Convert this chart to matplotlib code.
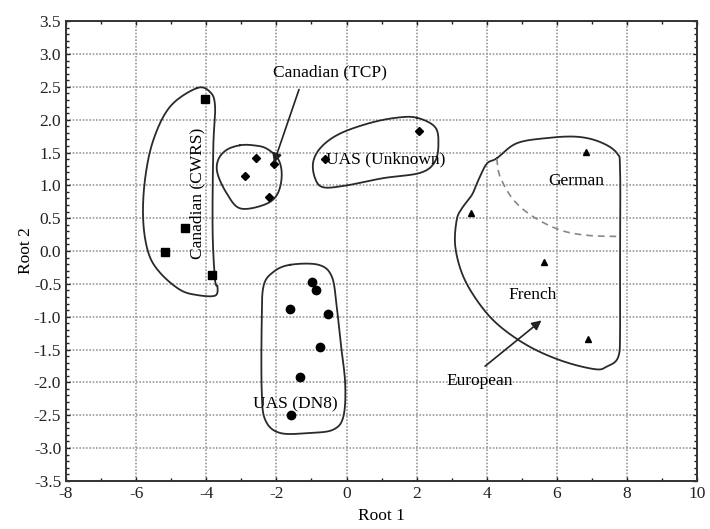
import numpy as np
import matplotlib
matplotlib.use("Agg")
import matplotlib.pyplot as plt
from matplotlib.ticker import MultipleLocator, FormatStrFormatter

plt.rcParams["font.family"] = ["Liberation Serif", "DejaVu Serif"]
plt.rcParams["axes.unicode_minus"] = False

# Discriminant scores (Root 1, Root 2) per wheat class
cwrs_x = [-4.05, -4.60, -5.17, -3.85]
cwrs_y = [2.31, 0.35, -0.01, -0.37]
tcp_x = [-2.58, -2.89, -2.22, -2.07]
tcp_y = [1.42, 1.14, 0.82, 1.32]
unknown_x = [-0.61, 2.08]
unknown_y = [1.40, 1.82]
euro_x = [6.83, 3.54, 5.64, 6.88]
euro_y = [1.51, 0.58, -0.16, -1.34]
dns_x = [-0.99, -0.87, -1.60, -0.52, -0.76, -1.33, -1.58]
dns_y = [-0.47, -0.59, -0.88, -0.96, -1.46, -1.92, -2.49]

# Group outlines (control points of closed freehand curves)
cwrs_outline = [(-4.27, 2.48), (-5.03, 2.20), (-5.51, 1.69), (-5.75, 1.08), (-5.80, 0.47),
                (-5.65, -0.03), (-5.32, -0.33), (-4.75, -0.59), (-4.27, -0.67), (-3.75, -0.68),
                (-3.68, -0.54), (-3.75, -0.44), (-3.82, 0.32), (-3.80, 1.59), (-3.75, 2.20),
                (-3.89, 2.42)]
tcp_outline = [(-3.04, 1.61), (-3.42, 1.54), (-3.66, 1.39), (-3.68, 1.18), (-3.42, 0.88),
               (-3.04, 0.65), (-2.37, 0.70), (-1.99, 0.85), (-1.85, 1.13), (-1.94, 1.39),
               (-2.28, 1.56), (-2.66, 1.61)]
unknown_outline = [(2.00, 2.03), (2.52, 1.89), (2.62, 1.64), (2.52, 1.36), (2.10, 1.19),
                   (1.05, 1.11), (0.01, 1.00), (-0.66, 0.97), (-0.90, 1.11), (-0.95, 1.36),
                   (-0.71, 1.59), (-0.18, 1.79), (0.67, 1.95), (1.43, 2.03)]
euro_outline = [(4.28, 1.41), (4.85, 1.64), (5.71, 1.72), (6.57, 1.74), (7.23, 1.66),
                (7.71, 1.49), (7.80, 1.23), (7.80, -0.04), (7.80, -1.15), (7.75, -1.61),
                (7.42, -1.76), (7.09, -1.80), (6.18, -1.68), (5.23, -1.46), (4.38, -1.15),
                (3.81, -0.82), (3.33, -0.39), (3.10, 0.07), (3.14, 0.47), (3.29, 0.65),
                (3.57, 0.85), (3.76, 1.08), (4.00, 1.33)]
dns_outline = [(-1.61, -0.21), (-0.80, -0.21), (-0.42, -0.39), (-0.28, -0.85), (-0.18, -1.35),
               (-0.04, -2.01), (-0.09, -2.52), (-0.38, -2.72), (-1.04, -2.77), (-1.90, -2.77),
               (-2.32, -2.57), (-2.42, -2.12), (-2.42, -1.10), (-2.37, -0.54), (-2.09, -0.32)]
german_divider = [(4.28, 1.41), (4.38, 1.13), (4.76, 0.78), (5.33, 0.52), (6.09, 0.32),
                  (6.85, 0.24), (7.80, 0.22)]


def catmull_rom(points, closed=True, n=20):
    p = np.asarray(points, dtype=float)
    if closed:
        pts = np.vstack([p[-1], p, p[0], p[1]])
    else:
        pts = np.vstack([2 * p[0] - p[1], p, 2 * p[-1] - p[-2]])
    out = []
    t = np.linspace(0, 1, n, endpoint=False)[:, None]
    for i in range(1, len(pts) - 2):
        p0, p1, p2, p3 = pts[i - 1], pts[i], pts[i + 1], pts[i + 2]
        seg = 0.5 * ((2 * p1) + (-p0 + p2) * t + (2 * p0 - 5 * p1 + 4 * p2 - p3) * t ** 2
                     + (-p0 + 3 * p1 - 3 * p2 + p3) * t ** 3)
        out.append(seg)
    out = np.vstack(out)
    if closed:
        out = np.vstack([out, out[:1]])
    else:
        out = np.vstack([out, p[-1:]])
    return out[:, 0], out[:, 1]


fig = plt.figure(figsize=(7.10, 5.29), dpi=100)
ax = fig.add_axes([0.093, 0.091, 0.889, 0.869])

ax.set_xlim(-8, 10)
ax.set_ylim(-3.5, 3.5)
ax.xaxis.set_major_locator(MultipleLocator(2))
ax.xaxis.set_minor_locator(MultipleLocator(1))
ax.yaxis.set_major_locator(MultipleLocator(0.5))
ax.yaxis.set_minor_locator(MultipleLocator(0.1))
ax.yaxis.set_major_formatter(FormatStrFormatter("%.1f"))
ax.tick_params(which="both", direction="in", top=True, right=True, labelsize=12.5, colors="#222222")
ax.tick_params(which="major", length=3, width=1)
ax.tick_params(which="minor", length=2, width=1)
ax.tick_params(axis="x", which="major", pad=4)
ax.grid(True, which="major", color="#9a9a9a", linestyle=(0, (1, 1)), linewidth=1.2)
for s in ax.spines.values():
    s.set_linewidth(1.4)
    s.set_color("#333333")

for outline in (cwrs_outline, tcp_outline, unknown_outline, euro_outline, dns_outline):
    xs, ys = catmull_rom(outline)
    ax.plot(xs, ys, color="#2a2a2a", lw=1.3, zorder=3)
dx, dy = catmull_rom(german_divider, closed=False)
ax.plot(dx, dy, color="#888888", lw=1.2, ls=(0, (4, 3)), zorder=3)

ax.plot(cwrs_x, cwrs_y, "s", color="black", ms=6, zorder=4)
ax.plot(tcp_x, tcp_y, "D", color="black", ms=4, zorder=4)
ax.plot(unknown_x, unknown_y, "D", color="black", ms=4, zorder=4)
ax.plot(euro_x, euro_y, "^", color="black", ms=5, zorder=4)
ax.plot(dns_x, dns_y, "o", color="black", ms=6, zorder=4)

fs = 12.5
ax.text(-0.47, 2.72, "Canadian (TCP)", fontsize=fs, ha="center", va="center", zorder=5)
ax.annotate("", xy=(-2.10, 1.30), xytext=(-1.33, 2.50),
            arrowprops=dict(arrowstyle="-|>", color="#222222", lw=1.2, mutation_scale=14), zorder=5)
ax.text(-4.24, 0.88, "Canadian (CWRS)", fontsize=fs, rotation=90, ha="center", va="center", zorder=5)
ax.text(1.13, 1.40, "UAS (Unknown)", fontsize=fs, ha="center", va="center", zorder=5)
ax.text(6.55, 1.06, "German", fontsize=fs, ha="center", va="center", zorder=5)
ax.text(5.32, -0.67, "French", fontsize=fs, ha="center", va="center", zorder=5)
ax.text(3.81, -1.98, "European", fontsize=fs, ha="center", va="center", zorder=5)
ax.annotate("", xy=(5.62, -1.03), xytext=(3.89, -1.78),
            arrowprops=dict(arrowstyle="-|>", color="#222222", lw=1.2, mutation_scale=14), zorder=5)
ax.text(-1.47, -2.33, "UAS (DN8)", fontsize=fs, ha="center", va="center", zorder=5)

ax.set_xlabel("Root 1", fontsize=12.5, labelpad=4)
ax.set_ylabel("Root 2", fontsize=12.5, labelpad=0)

fig.savefig("out.png", dpi=100)
